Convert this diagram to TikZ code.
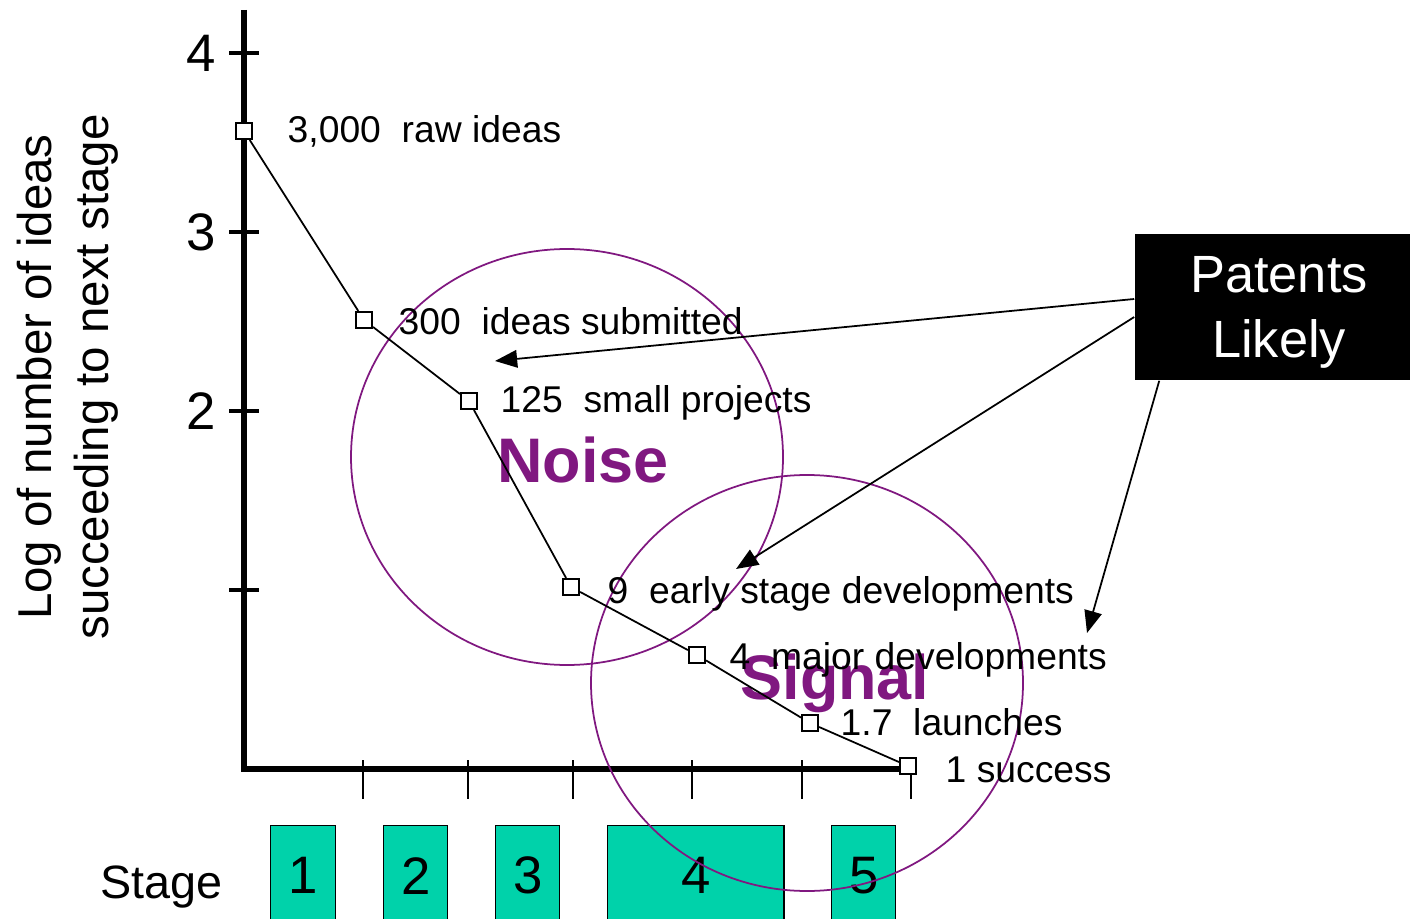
\documentclass[tikz,border=0pt]{standalone}
\usepackage{fontspec}
\setmainfont{Liberation Sans}
\usetikzlibrary{arrows.meta}
\definecolor{stagegreen}{RGB}{0,210,170}
\definecolor{zonepurple}{RGB}{128,24,128}

\begin{document}
\begin{tikzpicture}[x=0.01cm, y=-0.01cm,
    point/.style ={rectangle, draw, fill=white, inner sep=0pt, minimum size=0.16cm, line width=0.6pt},
    pointlabel/.style ={anchor=base west, inner sep=0pt, font=\fontsize{10.6}{12}\selectfont},
    axisnum/.style ={anchor=east, inner sep=0pt, font=\fontsize{15}{18}\selectfont},
    stagebox/.style ={rectangle, draw, fill=stagegreen, anchor=north west, minimum height=1cm, inner sep=0pt, font=\fontsize{15}{18}\selectfont},
    zone/.style ={draw=zonepurple, line width=0.5pt},
    zonelabel/.style ={text=zonepurple, inner sep=0pt, font=\fontsize{17.9}{20}\selectfont\bfseries},
    pointer/.style ={-{Triangle[length=6.3pt,width=5pt]}, line width=0.5pt}]
   \useasboundingbox (0,0) rectangle (1410,919);
   \clip (0,0) rectangle (1410,919);

   % axes
   \draw[line width=1.5pt] (244,10) -- (244,769) -- (912,769);
   \draw[line width=1.4pt] (229,53) -- (259,53);
   \draw[line width=1.4pt] (229,232) -- (259,232);
   \draw[line width=1.4pt] (229,411) -- (259,411);
   \draw[line width=1.4pt] (229,590) -- (259,590);
   \draw[line width=0.6pt] (363,760) -- (363,799);
   \draw[line width=0.6pt] (468,760) -- (468,799);
   \draw[line width=0.6pt] (573,760) -- (573,799);
   \draw[line width=0.6pt] (692,760) -- (692,799);
   \draw[line width=0.6pt] (802,760) -- (802,799);
   \draw[line width=0.6pt] (911,760) -- (911,799);

   \node[axisnum] (y4) at (217,53) {4};
   \node[axisnum] (y3) at (217,232) {3};
   \node[axisnum] (y2) at (217,411) {2};
   \node[rotate=90, align=center, font=\fontsize{13.5}{16.2}\selectfont] (ytitle) at (68,377)
      {Log of number of ideas\\succeeding to next stage};

   % stages
   \node[anchor=base west, inner sep=0pt, font=\fontsize{13.3}{16}\selectfont] (stage) at (100,898) {Stage};
   \node[stagebox, minimum width=0.65cm] (s1) at (270,825) {1};
   \node[stagebox, minimum width=0.64cm] (s2) at (383,825) {2};
   \node[stagebox, minimum width=0.64cm] (s3) at (495,825) {3};
   \node[stagebox, minimum width=1.76cm] (s4) at (607,825) {4};
   \node[stagebox, minimum width=0.64cm] (s5) at (831,825) {5};

   % noise and signal
   \draw[zone] (567,457) ellipse [x radius=216, y radius=208];
   \draw[zone] (807,683) ellipse [x radius=216, y radius=208];
   \node[zonelabel] (noise) at (583,460) {Noise};
   \node[zonelabel] (signal) at (835,683) {Signal};

   % funnel
   \node[point] (p1) at (244,131) {};
   \node[point] (p2) at (364,320) {};
   \node[point] (p3) at (469,401) {};
   \node[point] (p4) at (571,587) {};
   \node[point] (p5) at (697,655) {};
   \node[point] (p6) at (810,723) {};
   \node[point] (p7) at (908,766) {};

   \draw[line width=0.5pt] (p1) to (p2);
   \draw[line width=0.5pt] (p2) to (p3);
   \draw[line width=0.5pt] (p3) to (p4);
   \draw[line width=0.5pt] (p4) to (p5);
   \draw[line width=0.5pt] (p5) to (p6);
   \draw[line width=0.5pt] (p6) to (p7);

   \node[pointlabel] (l1) at (287,143) {3,000\ \ raw ideas};
   \node[pointlabel] (l2) at (398,335) {300\ \ ideas submitted};
   \node[pointlabel] (l3) at (500,413) {125\ \ small projects};
   \node[pointlabel] (l4) at (607,603) {9\ \ early stage developments};
   \node[pointlabel] (l5) at (729,669) {4\ \ major developments};
   \node[pointlabel] (l6) at (840,735) {1.7\ \ launches};
   \node[pointlabel] (l7) at (945,782) {1 success};

   % patents
   \node[fill=black, text=white, align=center, minimum width=2.88cm, minimum height=1.46cm,
      text depth=0pt, font=\fontsize{14.9}{18.5}\selectfont] (pat) at (1279,307) {Patents\\Likely};
   \coordinate (t1) at (495,361);
   \coordinate (t2) at (736,569);
   \coordinate (t3) at (1087,633);
   \draw[pointer] ([yshift=0.08cm]pat.west) to (t1);
   \draw[pointer] ([yshift=-0.1cm]pat.west) to (t2);
   \draw[pointer] ([xshift=0.25cm]pat.south west) to (t3);
 \end{tikzpicture}
\end{document}
